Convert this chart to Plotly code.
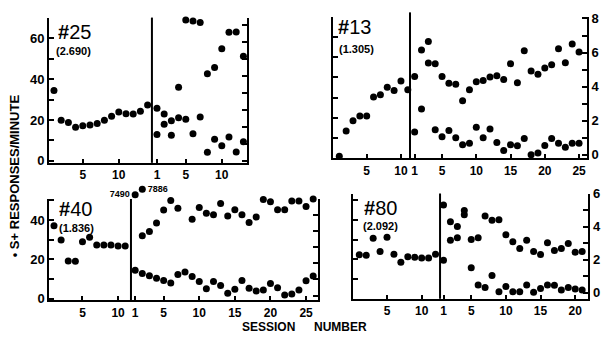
import plotly.graph_objects as go

# ---------------- data ----------------
# Baseline sessions: S+ responses/minute (left axis)
P25_BASE = [34.4, 19.9, 18.8, 16.4, 17.2, 17.5, 18.3, 19.9, 21.9, 23.9, 23.1, 23.0, 24.3, 27.4]
P13_BASE = [1.1, 13.6, 18.6, 21.0, 21.0, 30.4, 31.5, 35.1, 33.5, 38.2, 33.9]
P40_BASE = [37.1, 29.8, 19.2, 19.0, 28.9, 31.2, 27.3, 27.3, 27.3, 26.8, 26.8]
P80_BASE = [22.3, 22.1, 30.7, 23.9, 31.2, 22.6, 18.5, 21.3, 21.0, 20.6, 20.6, 22.6]

# Discrimination sessions: S+ responses/minute (left axis)
P25_SPLUS = [25.8, 23.0, 19.6, 36.0, 68.9, 68.4, 67.7, 42.6, 45.7, 54.8, 62.9, 63.1, 51.2]
P13_SPLUS = [40.5, 53.5, 57.7, 46.8, 40.5, 37.1, 36.6, 28.5, 33.9, 37.9, 38.5, 40.2, 40.8,
             39.0, 46.8, 37.4, 53.1, 43.2, 41.6, 44.7, 46.3, 54.1, 47.3, 56.5, 52.6]
P40_SPLUS = [None, 32.0, 34.1, 38.5, 45.0, 49.9, 46.0, 50.9, 40.3, 46.3, 43.4, 42.6, 48.3,
             42.0, 45.2, 42.6, 38.7, 41.5, 50.4, 49.3, 45.2, 45.2, 49.6, 49.6, 46.8, 50.7]
P80_SPLUS = [47.5, 39.0, 36.6, 44.7, 30.0, 30.9, 42.0, 39.8, 40.1, 32.5, 28.9, 25.5, 29.6,
             23.9, 22.4, 28.4, 24.4, 25.5, 28.0, 23.6, 24.0]

# Discrimination sessions: second measure (right axis)
P25_SMINUS = [1.56, 2.16, 1.51, 2.54, 2.45, 1.60, 2.58, 0.51, 1.28, 0.90, 1.41, 0.53, 1.13]
P13_SMINUS = [1.33, 2.68, 5.38, 1.46, 1.05, 1.42, 0.99, 0.58, 0.67, 1.61, 0.99, 1.51, 0.72,
              0.24, 0.58, 0.52, 0.95, 0.0, 0.1, 0.54, 0.95, 0.67, 0.44, 0.67, 0.67]
P40_SMINUS = [1.57, 1.37, 1.24, 1.08, 0.94, 0.78, 1.31, 1.47, 1.18, 0.88, 0.43, 0.88, 0.63,
              0.14, 0.39, 0.94, 0.45, 0.29, 0.35, 0.75, 0.49, 0.04, 0.1, 0.35, 0.92, 1.22]
P80_SMINUS = [1.97, 3.18, 3.33, 4.74, 1.52, 0.47, 0.31, 1.04, 0.06, 0.37, 0.06, 0.06, 0.47,
              0.02, 0.25, 0.47, 0.45, 0.16, 0.31, 0.22, 0.16]

# Off-scale values for bird #40 (printed next to their points)
P40_OFF_SESSIONS = [1, 2]
P40_OFF_VALUES = [7490, 7886]
OFF_DIV = 142.0  # compression used to place off-scale points just above the axis

NAMES = ["#25", "#13", "#40", "#80"]
RATES = ["(2.690)", "(1.305)", "(1.836)", "(2.092)"]
BASE_TICKS = [5, 10]
POST_TICKS = [[1, 5, 10], [1, 5, 10, 15, 20, 25], [1, 5, 10, 15, 20, 25], [1, 5, 10, 15, 20]]

# ---------------- layout ----------------
W, H = 604, 341
FONT = "Liberation Sans"


def xdom(a, b):
    return [a / W, b / W]


def ydom(top, bot):
    return [1 - bot / H, 1 - top / H]


panels = [
    dict(base=P25_BASE, splus=P25_SPLUS, sminus=P25_SMINUS,
         px=(49, 247), py=(11, 162), xr=(0.31, 27.8), gap=0.3, div=14.6, divtop=1.0,
         yl=(-0.94, 70.1), yr=(-0.11, 8.42), lmax=70, rmax=8, llab=True, rlab=False,
         title=(74, 25.5), rate=(73, 46)),
    dict(base=P13_BASE, splus=P13_SPLUS, sminus=P13_SMINUS,
         px=(333, 587), py=(10, 157.5), xr=(0.08, 37.16), gap=0.0, div=11.32, divtop=1.03,
         yl=(0, 70.0), yr=(-0.226, 8.11), lmax=70, rmax=8, llab=False, rlab=True,
         title=(355, 20.5), rate=(356.5, 43.5)),
    dict(base=P40_BASE, splus=P40_SPLUS, sminus=P40_SMINUS,
         px=(49.3, 318.3), py=(199.5, 305), xr=(0.34, 38.12), gap=0.4, div=11.81, divtop=1.0,
         yl=(-0.83, 50.7), yr=(-0.3, 6.02), lmax=50, rmax=6, llab=True, rlab=False,
         title=(75, 209.5), rate=(76.5, 230)),
    dict(base=P80_BASE, splus=P80_SPLUS, sminus=P80_SMINUS,
         px=(352.7, 588.3), py=(194, 303.3), xr=(0.05, 34.04), gap=0.15, div=12.65, divtop=1.0,
         yl=(0, 53.3), yr=(-0.37, 6.02), lmax=50, rmax=6, llab=False, rlab=True,
         title=(381, 208.5), rate=(380.5, 228)),
]

fig = go.Figure()
layout = dict(width=W, height=H, margin=dict(l=0, r=0, t=0, b=0),
              paper_bgcolor="white", plot_bgcolor="rgba(0,0,0,0)", showlegend=False,
              shapes=[], annotations=[])
marker = dict(color="black", size=7)
ytickfont = dict(family=FONT, size=13, color="black", weight="bold")
xtickfont = dict(family=FONT, size=12, color="black", weight="bold")

for k, p in enumerate(panels):
    xid = "x" if k == 0 else f"x{k + 1}"
    ylid = "y" if k == 0 else f"y{2 * k + 1}"
    yrid = f"y{2 * k + 2}"
    nb = len(p["base"])
    off = nb + p["gap"]
    base_x = list(range(1, nb + 1))
    post_x = [off + j for j in range(1, len(p["splus"]) + 1)]

    fig.add_trace(go.Scatter(x=base_x, y=p["base"], mode="markers", marker=marker,
                             xaxis=xid, yaxis=ylid, cliponaxis=False))
    fig.add_trace(go.Scatter(x=post_x, y=p["splus"], mode="markers", marker=marker,
                             xaxis=xid, yaxis=ylid, cliponaxis=False))
    fig.add_trace(go.Scatter(x=post_x, y=p["sminus"], mode="markers", marker=marker,
                             xaxis=xid, yaxis=yrid, cliponaxis=False))
    if k == 2:
        # hidden strip axis: same scale as the left axis, extended upward
        top_px, bot_px = 183.0, p["py"][1]
        lo, hi = p["yl"]
        scale = (bot_px - p["py"][0]) / (hi - lo)
        layout["yaxis9"] = dict(domain=ydom(top_px, bot_px), anchor=xid,
                                range=[lo, lo + (bot_px - top_px) / scale], visible=False,
                                showgrid=False, zeroline=False)
        fig.add_trace(go.Scatter(
            x=[off + s for s in P40_OFF_SESSIONS], y=[v / OFF_DIV for v in P40_OFF_VALUES],
            mode="markers+text", marker=marker, text=[str(v) for v in P40_OFF_VALUES],
            textposition=["middle left", "middle right"],
            textfont=dict(family=FONT, size=9, color="black", weight="bold"),
            xaxis=xid, yaxis="y9", cliponaxis=False))

    tv = BASE_TICKS + [off + t for t in POST_TICKS[k]]
    tt = [str(t) for t in BASE_TICKS] + [str(t) for t in POST_TICKS[k]]
    xkey = "xaxis" if k == 0 else f"xaxis{k + 1}"
    layout[xkey] = dict(domain=xdom(*p["px"]), range=list(p["xr"]), anchor=ylid,
                        showline=True, linewidth=2, linecolor="black", mirror=False,
                        showgrid=False, zeroline=False, ticks="inside", ticklen=4,
                        tickwidth=2, tickcolor="black", tickvals=tv, ticktext=tt,
                        tickangle=0, tickfont=xtickfont)

    lv = list(range(0, p["lmax"] + 1, 10))
    lt = [str(v) if (p["llab"] and v % 20 == 0) else "" for v in lv]
    ylkey = "yaxis" if k == 0 else f"yaxis{2 * k + 1}"
    layout[ylkey] = dict(domain=ydom(*p["py"]), range=list(p["yl"]), anchor=xid,
                         showline=True, linewidth=2, linecolor="black",
                         showgrid=False, zeroline=False, ticks="inside", ticklen=5,
                         tickwidth=2, tickcolor="black", tickvals=lv, ticktext=lt,
                         tickfont=ytickfont, showticklabels=p["llab"])

    rv = list(range(0, p["rmax"] + 1))
    rt = [str(v) if (p["rlab"] and v % 2 == 0) else "" for v in rv]
    layout[f"yaxis{2 * k + 2}"] = dict(domain=ydom(*p["py"]), range=list(p["yr"]),
                                       anchor=xid, overlaying=ylid, side="right",
                                       showline=True, linewidth=2, linecolor="black",
                                       showgrid=False, zeroline=False, ticks="inside",
                                       ticklen=5, tickwidth=2, tickcolor="black",
                                       tickvals=rv, ticktext=rt, tickfont=ytickfont,
                                       showticklabels=p["rlab"])

    layout["shapes"].append(dict(type="line", xref=xid, yref=f"{ylid} domain",
                                 x0=p["div"], x1=p["div"], y0=0, y1=p["divtop"],
                                 line=dict(color="black", width=2)))

    tx, ty = p["title"]
    layout["annotations"].append(dict(x=tx / W, y=1 - ty / H, xref="paper", yref="paper",
                                      text="<b>#</b>" + NAMES[k][1:], showarrow=False,
                                      xanchor="center", yanchor="middle",
                                      font=dict(family=FONT, size=20, color="black")))
    rx, ry = p["rate"]
    layout["annotations"].append(dict(x=rx / W, y=1 - ry / H, xref="paper", yref="paper",
                                      text=RATES[k], showarrow=False,
                                      xanchor="center", yanchor="middle",
                                      font=dict(family=FONT, size=11, color="black",
                                                weight="bold")))

layout["annotations"].append(dict(x=14 / W, y=1 - 176 / H, xref="paper", yref="paper",
                                  text="• S+ RESPONSES/MINUTE", textangle=-90,
                                  showarrow=False, xanchor="center", yanchor="middle",
                                  font=dict(family=FONT, size=13, color="black",
                                            weight="bold")))
layout["annotations"].append(dict(x=268 / W, y=1 - 333 / H, xref="paper", yref="paper",
                                  text="SESSION", showarrow=False,
                                  xanchor="center", yanchor="middle",
                                  font=dict(family=FONT, size=12, color="black",
                                            weight="bold")))
layout["annotations"].append(dict(x=340 / W, y=1 - 333 / H, xref="paper", yref="paper",
                                  text="NUMBER", showarrow=False,
                                  xanchor="center", yanchor="middle",
                                  font=dict(family=FONT, size=12, color="black",
                                            weight="bold")))

fig.update_layout(**layout)
fig.write_html("out.html")
